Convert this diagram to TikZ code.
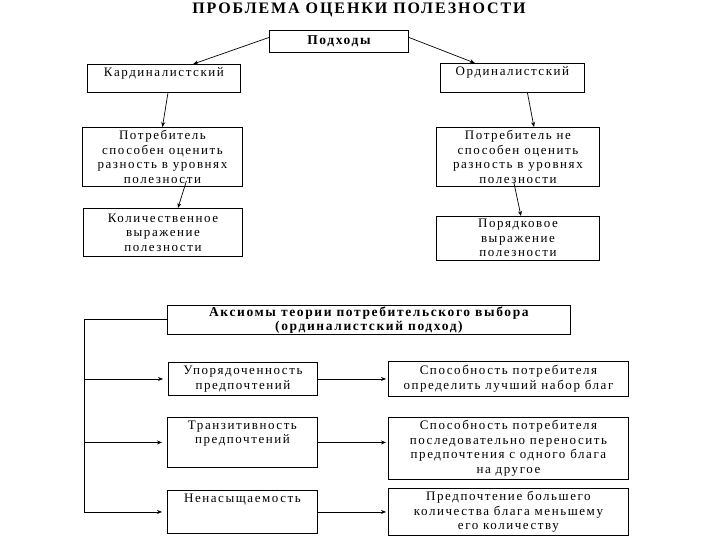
\documentclass[tikz,border=0pt]{standalone}
\usepackage{fontspec}
\setmainfont{Liberation Serif}[LetterSpace=12]
\usetikzlibrary{arrows.meta}
\usetikzlibrary{positioning,calc}
\tikzset{
    box/.style={
        draw,
        rectangle,
        line width=0.9pt,
        inner sep=3pt,
        align=center,
        anchor=north west,
        font=\fontsize{13}{14.5}\selectfont
    },
    boldbox/.style={
        box,
        font=\bfseries\fontsize{13.5}{14}\selectfont
    },
    link/.style={
        draw,
        line width=0.7pt,
        -{Stealth[length=5pt, width=4pt]}
    }
}

\begin{document}
\begin{tikzpicture}[x=1pt, y=-1pt]
  \useasboundingbox (0,0) rectangle (720,540);

  % Title
  \node[anchor=base, font=\bfseries\fontsize{16}{18}\selectfont] (title) at (359,14) {ПРОБЛЕМА ОЦЕНКИ ПОЛЕЗНОСТИ};

  % Approaches
  \node[boldbox, minimum width=139pt, minimum height=22pt] (podh) at (269,30) {Подходы};
  \node[box, minimum width=153pt, text height=9pt, text depth=13pt] (kard) at (87,64) {Кардиналистский};
  \node[box, minimum width=144pt, text height=9pt, text depth=14pt] (ord) at (440,63) {Ординалистский};

  \node[box, minimum width=160pt, minimum height=59pt] (potr1) at (82,127) {Потребитель\\способен оценить\\разность в уровнях\\полезности};
  \node[box, minimum width=163pt, minimum height=59pt] (potr2) at (436,127) {Потребитель не\\способен оценить\\разность в уровнях\\полезности};

  \node[box, minimum width=159pt, minimum height=48pt] (kol) at (83,208) {Количественное\\выражение\\полезности};
  \node[box, minimum width=163pt, minimum height=43pt] (por) at (436,216) {Порядковое\\выражение\\полезности};

  % Axioms
  \node[boldbox, inner ysep=1pt, minimum width=403pt, minimum height=28pt] (aks) at (167,305) {Аксиомы теории потребительского выбора\\(ординалистский подход)};

  \node[box, minimum width=149pt, minimum height=33pt] (upor) at (168,362) {Упорядоченность\\предпочтений};
  \node[box, minimum width=240pt, minimum height=35pt] (sp1) at (388,361) {Способность потребителя\\определить лучший набор благ};
  \node[box, minimum width=150pt, text height=23.5pt, text depth=20.5pt] (tranz) at (167,417) {Транзитивность\\предпочтений};
  \node[box, minimum width=240pt, minimum height=61pt] (sp2) at (388,417) {Способность потребителя\\последовательно переносить\\предпочтения с одного блага\\на другое};
  \node[box, minimum width=150pt, text height=9pt, text depth=28pt] (nenas) at (167,490) {Ненасыщаемость};
  \node[box, minimum width=240pt, minimum height=45pt] (pred) at (388,488) {Предпочтение большего\\количества блага меньшему\\его количеству};

  % Arrows of the upper part
  \draw[link] ([yshift=4pt]podh.west) -- ($(kard.north west)!0.69!(kard.north east)$);
  \draw[link] ([yshift=4pt]podh.east) -- ($(ord.north west)!0.24!(ord.north east)$);
  \draw[link] ([xshift=4pt]kard.south) -- (potr1.north);
  \draw[link] ([xshift=15pt]ord.south) -- ([xshift=16pt]potr2.north);
  \draw[link] ([xshift=24pt,yshift=6pt]potr1.south) -- ([xshift=15pt]kol.north);
  \draw[link] ([xshift=-4pt,yshift=4pt]potr2.south) -- ([xshift=3pt]por.north);

  % Bus on the left
  \coordinate (bus) at (84,0);
  \draw[line width=0.7pt] (aks.west) -- (aks.west -| bus) -- (bus |- nenas.west);
  \foreach \n in {upor,tranz,nenas}
    \draw[link, shorten >=5pt] (bus |- \n.west) -- (\n.west);

  % Axioms to their meaning
  \foreach \a/\b in {upor/sp1, tranz/sp2, nenas/pred}
    \draw[link, shorten >=2pt] (\a.east) -- (\a.east -| \b.west);
\end{tikzpicture}
\end{document}
